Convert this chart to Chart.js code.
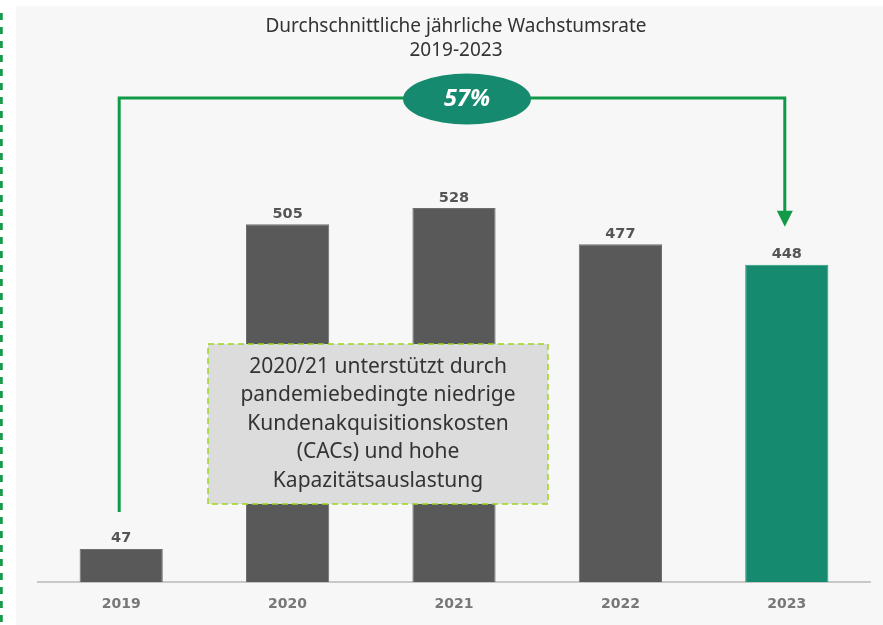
<!DOCTYPE html>
<html>
<head>
<meta charset="utf-8">
<script src="https://cdn.jsdelivr.net/npm/chart.js@4"></script>
<style>
  html, body { margin: 0; padding: 0; background: #ffffff; }
  #wrap { width: 883px; height: 625px; position: relative; }
</style>
</head>
<body>
<div id="wrap"><canvas id="chart" width="883" height="625"></canvas></div>
<script>
// chart data
const years = ['2019', '2020', '2021', '2022', '2023'];
const values = [47, 505, 528, 477, 448];
const barColors = ['#595959', '#595959', '#595959', '#595959', '#158a6f'];
const titleLines = ['Durchschnittliche jährliche Wachstumsrate', '2019-2023'];
const cagrLabel = '57%';
const noteLines = [
    '2020/21 unterstützt durch',
    'pandemiebedingte niedrige',
    'Kundenakquisitionskosten',
    '(CACs) und hohe',
    'Kapazitätsauslastung'
];

const green = '#109a48';
const textFont = '"Noto Sans", sans-serif';
const boldFont = '"DejaVu Sans", sans-serif';

// background panel + left dashed rule
const panelPlugin = {
    id: 'panel',
    beforeDraw(chart) {
        const ctx = chart.ctx;
        ctx.save();
        ctx.fillStyle = '#ffffff';
        ctx.fillRect(0, 0, chart.width, chart.height);
        ctx.fillStyle = '#f7f7f7';
        ctx.fillRect(16, 6, chart.width - 16, chart.height - 6);
        ctx.strokeStyle = green;
        ctx.lineWidth = 2.7;
        ctx.setLineDash([7, 7]);
        ctx.beginPath();
        ctx.moveTo(1.4, 13);
        ctx.lineTo(1.4, chart.height);
        ctx.stroke();
        ctx.restore();
    }
};

// value labels, title, CAGR connector and note box
const decoPlugin = {
    id: 'deco',
    afterDatasetsDraw(chart) {
        const ctx = chart.ctx;
        const meta = chart.getDatasetMeta(0);
        ctx.save();

        // value labels
        ctx.font = 'bold 14.5px ' + boldFont;
        ctx.fillStyle = '#555555';
        ctx.textAlign = 'center';
        ctx.textBaseline = 'bottom';
        meta.data.forEach((bar, i) => {
            ctx.fillText(String(values[i]), bar.x, bar.y - 3);
        });

        // title
        ctx.font = '19px ' + textFont;
        ctx.fillStyle = '#333333';
        ctx.textBaseline = 'middle';
        ctx.fillText(titleLines[0], 456, 27);
        ctx.fillText(titleLines[1], 456, 51);

        // connector from first to last bar
        const first = meta.data[0];
        const last = meta.data[meta.data.length - 1];
        const topY = 98;
        const startY = first.y - 37;
        const tipY = last.y - 38;
        ctx.strokeStyle = green;
        ctx.lineWidth = 3;
        ctx.lineJoin = 'miter';
        ctx.beginPath();
        ctx.moveTo(first.x - 2, startY);
        ctx.lineTo(first.x - 2, topY);
        ctx.lineTo(last.x - 2, topY);
        ctx.lineTo(last.x - 2, tipY - 14);
        ctx.stroke();
        ctx.fillStyle = green;
        ctx.beginPath();
        ctx.moveTo(last.x - 10, tipY - 16);
        ctx.lineTo(last.x + 6, tipY - 16);
        ctx.lineTo(last.x - 2, tipY);
        ctx.closePath();
        ctx.fill();

        // CAGR ellipse
        ctx.fillStyle = '#168a6f';
        ctx.beginPath();
        ctx.ellipse(467, 99, 64, 25.5, 0, 0, Math.PI * 2);
        ctx.fill();
        ctx.fillStyle = '#ffffff';
        ctx.font = 'italic bold 23.5px ' + textFont;
        ctx.textBaseline = 'middle';
        ctx.fillText(cagrLabel, 467, 99);

        // note box
        const bx = 208, by = 344, bw = 340, bh = 160;
        ctx.fillStyle = '#dcdcdc';
        ctx.fillRect(bx, by, bw, bh);
        ctx.strokeStyle = '#9dd61a';
        ctx.lineWidth = 1.5;
        ctx.setLineDash([6, 4]);
        ctx.strokeRect(bx, by, bw, bh);
        ctx.setLineDash([]);
        ctx.fillStyle = '#333333';
        ctx.font = '21px ' + textFont;
        noteLines.forEach((line, i) => {
            ctx.fillText(line, bx + bw / 2, 367 + i * 28.5);
        });

        ctx.restore();
    }
};

const ctx = document.getElementById('chart').getContext('2d');
new Chart(ctx, {
    type: 'bar',
    data: {
        labels: years,
        datasets: [{
            data: values,
            backgroundColor: barColors,
            borderColor: barColors.map(c => c === '#595959' ? '#6e6e6e' : '#2a9a7e'),
            borderWidth: 1,
            borderSkipped: 'bottom',
            barPercentage: 0.5,
            categoryPercentage: 1.0
        }]
    },
    options: {
        responsive: false,
        animation: false,
        layout: { padding: { left: 38, right: 13, top: 157, bottom: -2 } },
        plugins: {
            legend: { display: false },
            tooltip: { enabled: false }
        },
        scales: {
            x: {
                grid: { display: false, drawTicks: false },
                border: { display: true, color: '#c8c8c8', width: 2 },
                ticks: {
                    padding: 14,
                    color: '#777777',
                    font: { family: 'DejaVu Sans', size: 14, weight: 'bold' }
                }
            },
            y: {
                display: false,
                min: 0,
                max: 600
            }
        }
    },
    plugins: [panelPlugin, decoPlugin]
});
</script>
</body>
</html>
